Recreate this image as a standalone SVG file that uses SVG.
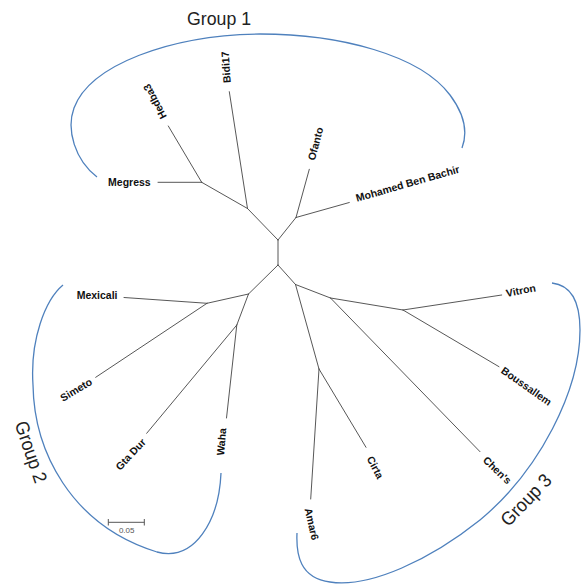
<svg xmlns="http://www.w3.org/2000/svg" width="581" height="585" viewBox="0 0 581 585">
<style>
.lbl{font-family:"Liberation Sans",Arial,sans-serif;font-weight:bold;font-size:10.5px;fill:#111;dominant-baseline:central}
.grp{font-family:"Liberation Sans",Arial,sans-serif;font-size:19px;fill:#222}
.br{stroke:#444;stroke-width:0.9;fill:none;stroke-linecap:round}
.arc{stroke:#4f81bd;stroke-width:1.3;fill:none}
.sc{stroke:#555;stroke-width:1;fill:none}
.sct{font-family:"Liberation Sans",Arial,sans-serif;font-size:8px;fill:#555}
</style>
<rect width="581" height="585" fill="#fff"/>
<g id="connectors">
<path class="br" d="M278,240L278,265 M278,240L247.5,208.5 M278,240L296,217.5 M247.5,208.5L201.7,182.3 M247.5,208.5L229.3,91.7 M201.7,182.3L158,182.3 M201.7,182.3L168.3,126 M296,217.5L309.3,169.3 M296,217.5L349.3,202.5"/>
<path class="br" d="M278,265L248.5,294 M248.5,294L207,303.3 M207,303.3L124,297.5 M207,303.3L95.7,377.3 M248.5,294L236.8,325 M236.8,325L146.7,433.3 M236.8,325L226.5,418"/>
<path class="br" d="M278,265L295.5,284.5 M295.5,284.5L330.5,298 M330.5,298L403,310 M403,310L501.7,295 M403,310L499,366.7 M330.5,298L480,451.7 M295.5,284.5L319,369 M319,369L366,447.3 M319,369L310.7,499"/>
</g>
<g id="group1">
<path class="arc" d="M97,177 C75,160 66,130 74,108 C90,65 170,35 260,34 C340,34 420,55 450,95 C465,115 468,132 462,148"/>
<text class="grp" x="219" y="25" text-anchor="middle" textLength="64" lengthAdjust="spacingAndGlyphs">Group 1</text>
</g>
<g id="group2">
<path class="arc" d="M63,285 C45,300 30,340 33,385 C34,450 70,525 157,552 C195,562 219,520 221,473"/>
<text class="grp" transform="translate(31,452) rotate(71)" text-anchor="middle" dominant-baseline="central" textLength="64" lengthAdjust="spacingAndGlyphs">Group 2</text>
</g>
<g id="group3">
<path class="arc" d="M552,283 C570,285 580,300 580,330 C580,390 540,470 480,520 C430,560 370,588 330,582 C300,578 296,555 297,533"/>
<text class="grp" transform="translate(526,500) rotate(-46)" text-anchor="middle" dominant-baseline="central" textLength="64" lengthAdjust="spacingAndGlyphs">Group 3</text>
</g>
<g id="node-megress"><text class="lbl" transform="translate(150.7,182.3)" text-anchor="end">Megress</text></g>
<g id="node-hedba3"><text class="lbl" transform="translate(163.5,118.4) rotate(-118)">Hedba3</text></g>
<g id="node-bidi17"><text class="lbl" transform="translate(226.8,83) rotate(-94)">Bidi17</text></g>
<g id="node-ofanto"><text class="lbl" transform="translate(310.8,160) rotate(-75)">Ofanto</text></g>
<g id="node-mohamed"><text class="lbl" font-size="10" transform="translate(356,198) rotate(-16)">Mohamed Ben Bachir</text></g>
<g id="node-mexicali"><text class="lbl" transform="translate(117.5,294.5)" text-anchor="end">Mexicali</text></g>
<g id="node-simeto"><text class="lbl" transform="translate(91,380.5) rotate(-31)" text-anchor="end">Simeto</text></g>
<g id="node-gtadur"><text class="lbl" transform="translate(143.5,440) rotate(-47)" text-anchor="end">Gta Dur</text></g>
<g id="node-waha"><text class="lbl" transform="translate(222.3,428) rotate(-85)" text-anchor="end">Waha</text></g>
<g id="node-vitron"><text class="lbl" transform="translate(506,293) rotate(-11)">Vitron</text></g>
<g id="node-boussallem"><text class="lbl" transform="translate(502.5,369) rotate(35)">Boussallem</text></g>
<g id="node-chens"><text class="lbl" transform="translate(485,458) rotate(44)">Chen's</text></g>
<g id="node-cirta"><text class="lbl" transform="translate(370,456.6) rotate(62.5)">Cirta</text></g>
<g id="node-amar6"><text class="lbl" transform="translate(308.4,508) rotate(77)">Amar6</text></g>
<g id="scalebar">
<path class="sc" d="M108.3,522.3H144.3 M108.3,519V525.5 M144.3,519V525.5"/>
<text class="sct" x="126.7" y="533" text-anchor="middle">0.05</text>
</g>
</svg>
